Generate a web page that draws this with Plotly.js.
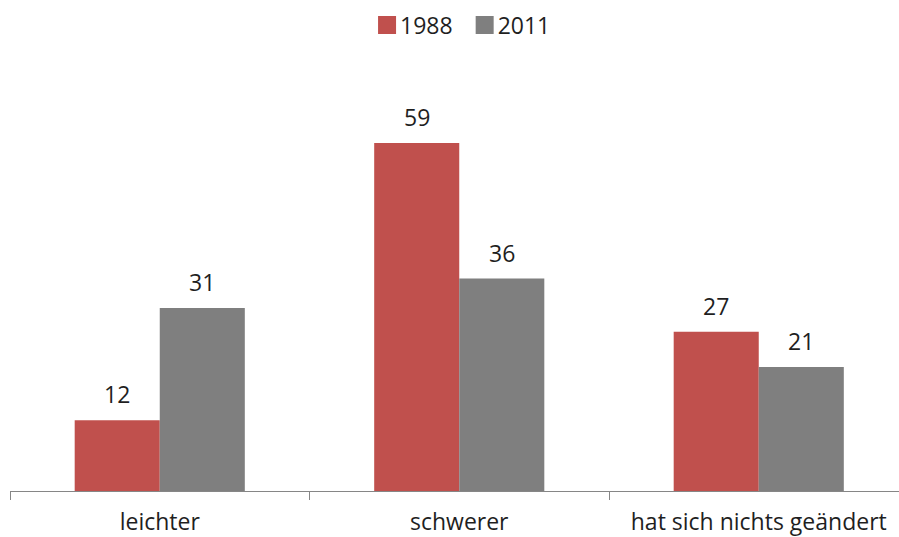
<!DOCTYPE html>
<html>
<head>
<meta charset="utf-8">
<script src="https://cdn.plot.ly/plotly-3.0.1.min.js"></script>
<style>
  html, body { margin: 0; padding: 0; background: #ffffff; }
  #chart { width: 899px; height: 537px; }
</style>
</head>
<body>
<div id="chart"></div>
<script>
// Categories and survey values
const categories = ["leichter", "schwerer", "hat sich nichts geändert"];
const values1988 = [12, 59, 27];
const values2011 = [31, 36, 21];
const seriesNames = ["1988", "2011"];

const colors = ["#C0504D", "#7F7F7F"];
const textColor = "#1f1f1f";
const fontFamily = "'Open Sans', 'Noto Sans', sans-serif";
const fontSize = 23;
const bargap = 0.432;

const series = [values1988, values2011];

const traces = series.map((vals, i) => ({
  type: "bar",
  name: seriesNames[i],
  x: categories,
  y: vals,
  marker: { color: colors[i], line: { width: 0 } },
  hoverinfo: "x+y+name"
}));

// Value labels above each bar (offset in category units for grouped bars)
const barWidth = (1 - bargap) / series.length;
const annotations = [];
series.forEach((vals, s) => {
  const offset = (s - (series.length - 1) / 2) * barWidth;
  vals.forEach((v, i) => {
    annotations.push({
      x: i + offset,
      y: v,
      xref: "x",
      yref: "y",
      text: String(v),
      showarrow: false,
      yanchor: "middle",
      yshift: 26,
      font: { family: fontFamily, size: fontSize, color: textColor }
    });
  });
});

const layout = {
  width: 899,
  height: 537,
  margin: { l: 10, r: 0, t: 60, b: 46, pad: 0 },
  paper_bgcolor: "#ffffff",
  plot_bgcolor: "#ffffff",
  barmode: "group",
  bargap: bargap,
  bargroupgap: 0,
  showlegend: true,
  legend: {
    orientation: "h",
    x: 0.504,
    xanchor: "center",
    y: 1.081,
    yanchor: "middle",
    font: { family: fontFamily, size: fontSize, color: textColor },
    itemwidth: 30,
    tracegroupgap: 0
  },
  xaxis: {
    type: "category",
    range: [-0.5, -0.5 + 889 / 299.5],
    showline: true,
    linecolor: "#868686",
    linewidth: 1,
    ticks: "outside",
    tickson: "boundaries",
    ticklen: 8,
    tickcolor: "#868686",
    tickwidth: 1,
    ticklabelstandoff: 10,
    showgrid: false,
    zeroline: false,
    tickfont: { family: fontFamily, size: fontSize, color: textColor },
    fixedrange: true
  },
  yaxis: {
    range: [0, 73.05],
    visible: false,
    showgrid: false,
    zeroline: false,
    fixedrange: true
  },
  annotations: annotations
};

Plotly.newPlot("chart", traces, layout, { displayModeBar: false, staticPlot: true })
  .then(() => {
    // Larger square legend swatches sitting close to their labels
    document.querySelectorAll("#chart .legend .legendpoints path").forEach(p => {
      p.setAttribute("d", "M9,9H-9V-9H9Z");
      p.setAttribute("transform", "translate(27,0)");
    });
  });
</script>
</body>
</html>
